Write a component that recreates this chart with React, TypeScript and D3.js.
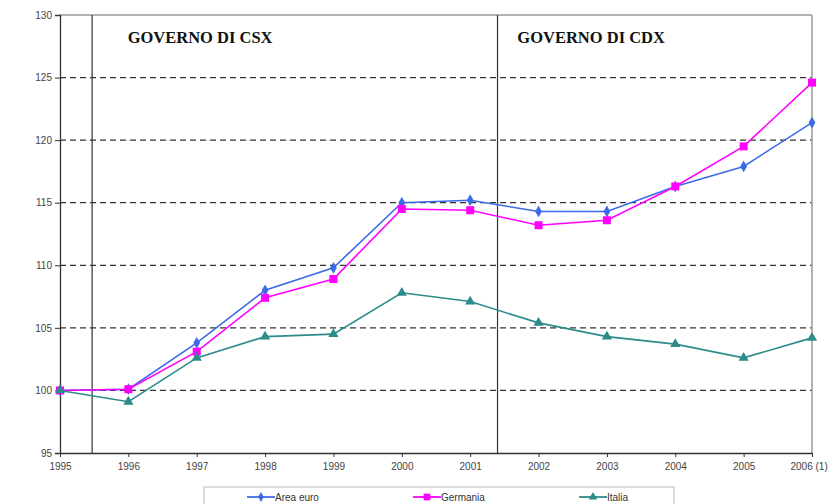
import React, { useRef, useEffect } from 'react';
import * as d3 from 'd3';

const years = [1995, 1996, 1997, 1998, 1999, 2000, 2001, 2002, 2003, 2004, 2005, 2006];
const yearLabels = ['1995', '1996', '1997', '1998', '1999', '2000', '2001', '2002', '2003', '2004', '2005', '2006 (1)'];
const areaEuro = [100, 100.1, 103.8, 108.0, 109.8, 115.0, 115.2, 114.3, 114.3, 116.3, 117.9, 121.4];
const germania = [100, 100.1, 103.1, 107.4, 108.9, 114.5, 114.4, 113.2, 113.6, 116.3, 119.5, 124.6];
const italia = [100, 99.1, 102.6, 104.3, 104.5, 107.8, 107.1, 105.4, 104.3, 103.7, 102.6, 104.2];
const yTicks = [95, 100, 105, 110, 115, 120, 125, 130];
const gridValues = [100, 105, 110, 115, 120, 125];
const periodLines = [1995.47, 2001.4];
const periodLabels = [
  { at: 1995.99, text: 'GOVERNO DI CSX' },
  { at: 2001.69, text: 'GOVERNO DI CDX' }
];

const series = [
  { name: 'Area euro', values: areaEuro, color: '#3d6ae8', marker: d3.symbolDiamond, size: 40 },
  { name: 'Germania', values: germania, color: '#ff00ff', marker: d3.symbolSquare, size: 64 },
  { name: 'Italia', values: italia, color: '#2b8c8a', marker: d3.symbolTriangle, size: 45 }
];

export default function App() {
  const svgRef = useRef<SVGSVGElement>(null);

  useEffect(() => {
    const svg = d3.select(svgRef.current);
    svg.selectAll('*').remove();

    // plot area
    const left = 60, right = 812, top = 15, bottom = 453;

    const x = d3.scaleLinear().domain([1995, 2006]).range([left, right]);
    const y = d3.scaleLinear().domain([95, 130]).range([bottom, top]);

    // grid lines
    svg.append('g')
      .selectAll('line')
      .data(gridValues)
      .enter()
      .append('line')
      .attr('x1', left)
      .attr('x2', right)
      .attr('y1', d => y(d))
      .attr('y2', d => y(d))
      .attr('stroke', '#333')
      .attr('stroke-width', 1.3)
      .attr('stroke-dasharray', '6,4');

    // top and right border
    svg.append('line')
      .attr('x1', left).attr('x2', right)
      .attr('y1', y(130)).attr('y2', y(130))
      .attr('stroke', '#999').attr('stroke-width', 1.5);
    svg.append('line')
      .attr('x1', x(2006)).attr('x2', x(2006))
      .attr('y1', y(130)).attr('y2', y(95))
      .attr('stroke', '#999').attr('stroke-width', 1.5);

    // period separators
    svg.append('g')
      .selectAll('line')
      .data(periodLines)
      .enter()
      .append('line')
      .attr('x1', d => x(d))
      .attr('x2', d => x(d))
      .attr('y1', y(130))
      .attr('y2', y(95))
      .attr('stroke', '#333')
      .attr('stroke-width', 1.2);

    svg.append('g')
      .selectAll('text')
      .data(periodLabels)
      .enter()
      .append('text')
      .attr('x', d => x(d.at))
      .attr('y', 43)
      .attr('font-family', '"Liberation Serif", "DejaVu Serif", serif')
      .attr('font-weight', 'bold')
      .attr('font-size', 16.5)
      .attr('fill', '#111')
      .text(d => d.text);

    // axes
    const yAxis = svg.append('g')
      .attr('transform', `translate(${left},0)`)
      .call(d3.axisLeft(y).tickValues(yTicks).tickSize(5).tickPadding(3));
    yAxis.select('.domain').attr('stroke', '#333').attr('stroke-width', 1.3);
    yAxis.selectAll('.tick line').attr('stroke', '#333');
    yAxis.selectAll('text')
      .attr('font-family', '"Liberation Sans", Arial, sans-serif')
      .attr('font-size', 10)
      .attr('fill', '#444');

    const xAxis = svg.append('g')
      .attr('transform', `translate(0,${bottom})`)
      .call(d3.axisBottom(x).tickValues(years).tickSize(4).tickSizeOuter(0).tickPadding(6)
        .tickFormat((d, i) => yearLabels[i]));
    xAxis.select('.domain').attr('stroke', '#333').attr('stroke-width', 1.3);
    xAxis.selectAll('.tick line').attr('stroke', '#333');
    xAxis.selectAll('text')
      .attr('font-family', '"Liberation Sans", Arial, sans-serif')
      .attr('font-size', 10)
      .attr('fill', '#444');
    // last label runs off the right edge, as in the original
    xAxis.selectAll('.tick text').filter((d, i) => i === years.length - 1)
      .attr('text-anchor', 'start').attr('dx', -22);

    // lines and markers
    const line = d3.line<number>()
      .x((d, i) => x(years[i]))
      .y(d => y(d));

    series.forEach(s => {
      svg.append('path')
        .datum(s.values)
        .attr('fill', 'none')
        .attr('stroke', s.color)
        .attr('stroke-width', 1.6)
        .attr('d', line);

      svg.append('g')
        .selectAll('path')
        .data(s.values)
        .enter()
        .append('path')
        .attr('transform', (d, i) => `translate(${x(years[i])},${y(d)})`)
        .attr('d', d3.symbol().type(s.marker).size(s.size)())
        .attr('fill', s.color);
    });

    // legend
    const legend = svg.append('g');
    legend.append('rect')
      .attr('x', 204).attr('y', 487)
      .attr('width', 470).attr('height', 30)
      .attr('fill', 'white')
      .attr('stroke', '#bbb');

    const legendX = d3.scalePoint<string>()
      .domain(series.map(s => s.name))
      .range([247, 579]);

    series.forEach(s => {
      const lx = legendX(s.name) as number;
      const item = legend.append('g').attr('transform', `translate(${lx},497)`);
      item.append('line')
        .attr('x1', 0).attr('x2', 28)
        .attr('stroke', s.color).attr('stroke-width', 1.8);
      item.append('path')
        .attr('transform', 'translate(14,0)')
        .attr('d', d3.symbol().type(s.marker).size(s.size * 0.7)())
        .attr('fill', s.color);
      item.append('text')
        .attr('x', 28).attr('y', 4)
        .attr('font-family', '"Liberation Sans", Arial, sans-serif')
        .attr('font-size', 10)
        .attr('fill', '#333')
        .text(s.name);
    });
  }, []);

  return (
    <svg
      ref={svgRef}
      width={829}
      height={504}
      style={{ position: 'absolute', left: 0, top: 0, background: 'white' }}
    />
  );
}
